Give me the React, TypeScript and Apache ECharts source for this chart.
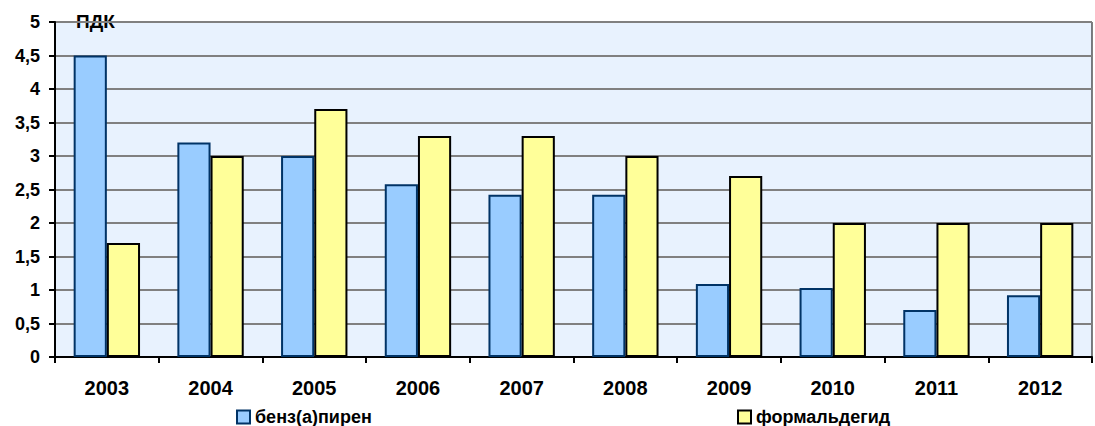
import React, { useEffect, useRef } from "react";
import * as echarts from "echarts";

const years = ["2003", "2004", "2005", "2006", "2007", "2008", "2009", "2010", "2011", "2012"];
const benzapiren = [4.5, 3.2, 3.0, 2.58, 2.42, 2.42, 1.09, 1.03, 0.7, 0.92];
const formaldehyde = [1.7, 3.0, 3.7, 3.3, 3.3, 3.0, 2.7, 2.0, 2.0, 2.0];
const seriesNames = ["бенз(а)пирен", "формальдегид"];
const unitLabel = "ПДК";

const FONT = "'Liberation Sans', Arial, sans-serif";

export default function App() {
  const ref = useRef<HTMLDivElement>(null);
  useEffect(() => {
    if (!ref.current) return;
    const chart = echarts.init(ref.current, undefined, { renderer: "svg" });
    const legendText = { color: "#000", fontFamily: FONT, fontWeight: "bold", fontSize: 18 };
    chart.setOption({
      animation: false,
      backgroundColor: "#ffffff",
      grid: {
        left: 55,
        top: 22,
        right: 3,
        bottom: 69,
        show: true,
        backgroundColor: "#E8F2FE",
        borderColor: "#000000",
        borderWidth: 1,
        containLabel: false,
      },
      xAxis: {
        type: "category",
        data: years,
        boundaryGap: true,
        axisLine: { lineStyle: { color: "#000", width: 2 } },
        axisTick: { show: true, alignWithLabel: false, length: 6, lineStyle: { color: "#000", width: 2 } },
        axisLabel: { color: "#000", fontFamily: FONT, fontWeight: "bold", fontSize: 20, margin: 21 },
        splitLine: { show: false },
      },
      yAxis: {
        type: "value",
        min: 0,
        max: 5,
        interval: 0.5,
        axisLine: { show: true, lineStyle: { color: "#000", width: 2 } },
        axisTick: { show: true, length: 6, lineStyle: { color: "#000", width: 2 } },
        axisLabel: {
          color: "#000",
          fontFamily: FONT,
          fontWeight: "bold",
          fontSize: 18,
          margin: 15,
          formatter: (v: number) => String(v).replace(".", ","),
        },
        splitLine: { show: true, lineStyle: { color: "#808080", width: 2 } },
      },
      legend: [
        {
          data: [seriesNames[0]],
          left: 236,
          top: 408,
          padding: 0,
          icon: "rect",
          itemWidth: 13,
          itemHeight: 13,
          textStyle: legendText,
        },
        {
          data: [seriesNames[1]],
          left: 737,
          top: 408,
          padding: 0,
          icon: "rect",
          itemWidth: 13,
          itemHeight: 13,
          textStyle: legendText,
        },
      ],
      graphic: [
        {
          type: "text",
          left: 76,
          top: 12,
          style: { text: unitLabel, fill: "#000", font: `bold 19px ${FONT}` },
        },
      ],
      series: [
        {
          name: seriesNames[0],
          type: "bar",
          data: benzapiren,
          barGap: "0%",
          barCategoryGap: "36%",
          itemStyle: { color: "#99CCFF", borderColor: "#003366", borderWidth: 2 },
        },
        {
          name: seriesNames[1],
          type: "bar",
          data: formaldehyde,
          barGap: "0%",
          barCategoryGap: "36%",
          itemStyle: { color: "#FFFF99", borderColor: "#000000", borderWidth: 2 },
        },
      ],
    });
    return () => chart.dispose();
  }, []);
  return (
    <div
      ref={ref}
      style={{ position: "absolute", left: 0, top: 0, width: 1095, height: 426 }}
    />
  );
}
